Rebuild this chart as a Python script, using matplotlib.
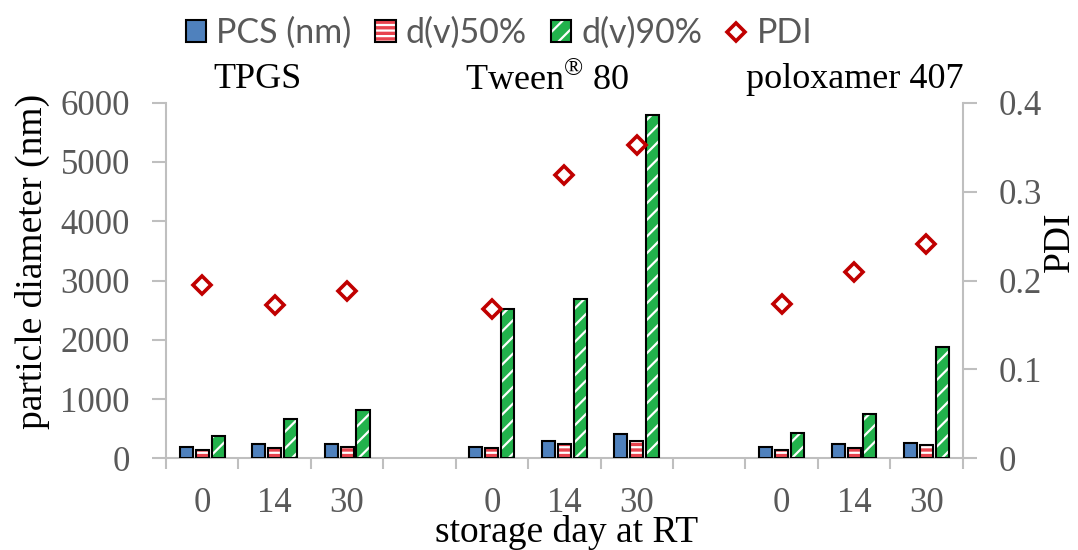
import matplotlib
matplotlib.use("Agg")
import matplotlib.pyplot as plt
from matplotlib.patches import Patch
from matplotlib.lines import Line2D
import numpy as np

# ---- data ----
groups = ["TPGS", "Tween$^{\u00ae}$ 80", "poloxamer 407"]
days = ["0", "14", "30"]
tick_labels = ["0", "14", "30", "", "0", "14", "30", "", "0", "14", "30"]
pcs = [190, 245, 245, 195, 290, 405, 190, 235, 255]
d50 = [145, 170, 185, 180, 240, 290, 135, 175, 220]
d90 = [375, 655, 820, 2520, 2690, 5790, 420, 750, 1880]
pdi = [0.195, 0.173, 0.188, 0.168, 0.319, 0.352, 0.174, 0.210, 0.241]
left_ticks = [0, 1000, 2000, 3000, 4000, 5000, 6000]
right_ticks = [0, 0.1, 0.2, 0.3, 0.4]

plt.rcParams["hatch.linewidth"] = 1.6
plt.rcParams["mathtext.fontset"] = "custom"
plt.rcParams["mathtext.rm"] = "Liberation Serif"

SERIF = "Liberation Serif"
GRAY_TXT = "#595959"
SPINE = "#bfbfbf"
BLUE = "#4f81bd"
RED = "#e8434e"
GREEN = "#22b24c"
DKRED = "#c00000"

# category positions (skipping the blank gap categories)
cat_pos = np.array([i for i, t in enumerate(tick_labels) if t != ""], dtype=float)

fig = plt.figure(figsize=(10.78, 5.5), dpi=100)
ax = fig.add_axes([0.154, 0.1667, 0.739, 0.6466])
ax2 = ax.twinx()

w = 0.18
off = 0.22
series = [
    (pcs, -off, BLUE, None),
    (d50, 0.0, RED, "---"),
    (d90, off, GREEN, "//"),
]
handles = []
for vals, o, col, h in series:
    if h:
        ax.bar(cat_pos + o, vals, w, color=col, edgecolor="white", hatch=h, linewidth=0, zorder=2)
    else:
        ax.bar(cat_pos + o, vals, w, color=col, linewidth=0, zorder=2)
    ax.bar(cat_pos + o, vals, w, fill=False, edgecolor="black", linewidth=1.5, zorder=3)
    if h:
        handles.append((Patch(facecolor=col, edgecolor="white", hatch=h, linewidth=0),
                        Patch(facecolor="none", edgecolor="black", linewidth=1.5)))
    else:
        handles.append(Patch(facecolor=col, edgecolor="black", linewidth=1.5))

ax2.plot(cat_pos, pdi, linestyle="none", marker="D", markersize=9,
         markerfacecolor="white", markeredgecolor=DKRED, markeredgewidth=2.6, zorder=4)
handles.append(Line2D([], [], linestyle="none", marker="D", markersize=9,
                      markerfacecolor="white", markeredgecolor=DKRED, markeredgewidth=2.6))

# axes limits & ticks
n = len(tick_labels)
ax.set_xlim(-0.5, n - 0.5)
ax.set_ylim(0, 6000)
ax2.set_ylim(0, 0.4)
ax.set_xticks(np.arange(-0.5, n, 1.0))
ax.set_xticklabels([])
ax.set_xticks(np.arange(n), minor=True)
ax.set_xticklabels(tick_labels, minor=True)
ax.tick_params(axis="x", which="major", length=8, width=1.5, color=SPINE)
ax.tick_params(axis="x", which="minor", length=0, pad=21, labelsize=25, labelcolor=GRAY_TXT)
ax.set_yticks(left_ticks)
ax.set_yticklabels([str(t) for t in left_ticks])
ax.tick_params(axis="y", length=10, width=1.5, color=SPINE, pad=16, labelsize=25, labelcolor=GRAY_TXT)
ax2.set_yticks(right_ticks)
ax2.set_yticklabels(["0", "0.1", "0.2", "0.3", "0.4"])
ax2.tick_params(axis="y", length=10, width=1.5, color=SPINE, pad=16, labelsize=25, labelcolor=GRAY_TXT)
for lab in ax.get_xticklabels(minor=True) + ax.get_yticklabels() + ax2.get_yticklabels():
    lab.set_fontfamily(SERIF)

for a in (ax, ax2):
    a.spines["top"].set_visible(False)
    for s in ("left", "right", "bottom"):
        a.spines[s].set_color(SPINE)
        a.spines[s].set_linewidth(1.5)
ax2.spines["left"].set_visible(False)
ax2.spines["bottom"].set_visible(False)
ax.spines["right"].set_visible(False)

# labels
ax.text(-0.168, 0.555, "particle diameter (nm)", transform=ax.transAxes, rotation=90,
        ha="center", va="center", fontsize=27, family=SERIF, color="black")
ax.text(1.122, 0.608, "PDI", transform=ax.transAxes, rotation=90,
        ha="center", va="center", fontsize=27, family=SERIF, color="black")
ax.text(0.503, -0.234, "storage day at RT", transform=ax.transAxes,
        ha="center", va="baseline", fontsize=27, family=SERIF, color="black")

# group titles
for gx, g in zip([0.1154, 0.479, 0.8645], groups):
    ax.text(gx, 1.064, g, transform=ax.transAxes, ha="center", va="center",
            fontsize=26, family=SERIF, color="black")

leg = fig.legend(handles, ["PCS (nm)", "d(v)50%", "d(v)90%", "PDI"], ncol=4,
                 loc="center", bbox_to_anchor=(0.463, 0.94), frameon=False,
                 prop={"family": "Lato", "size": 24.5}, labelcolor=GRAY_TXT,
                 handlelength=0.6, handleheight=0.6, handletextpad=0.3,
                 columnspacing=0.7)

fig.savefig("out.png", dpi=100)
